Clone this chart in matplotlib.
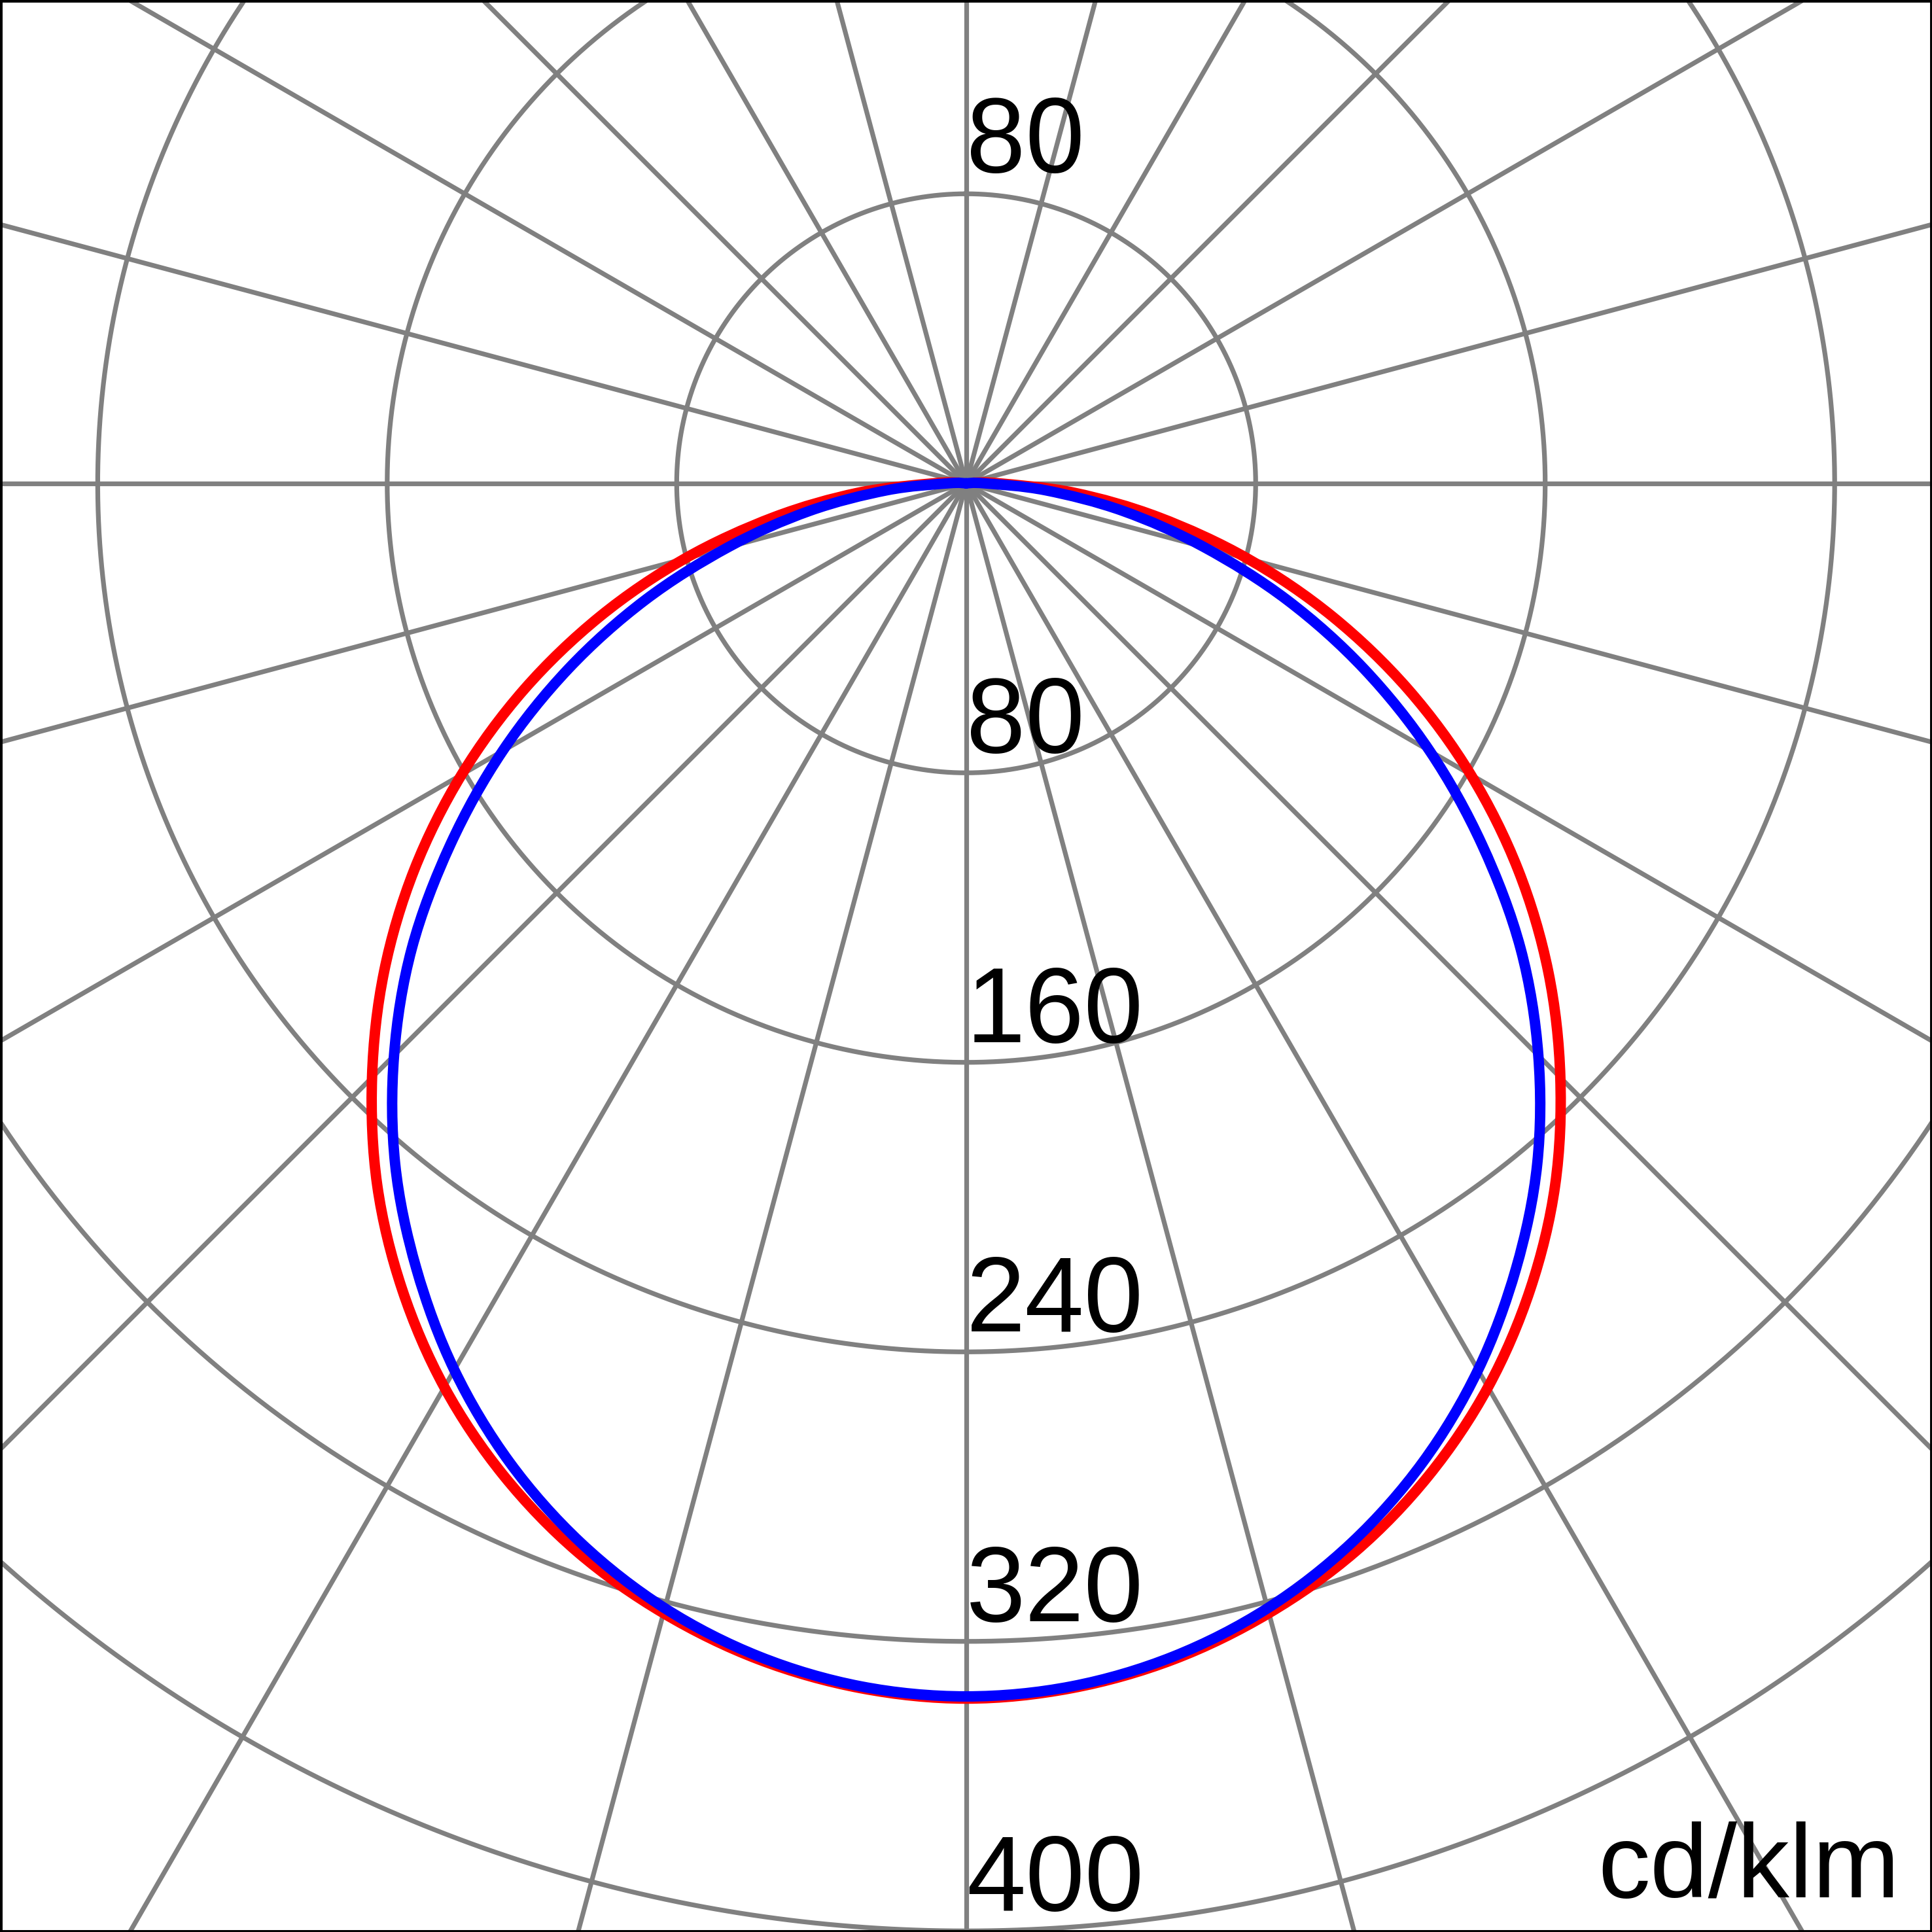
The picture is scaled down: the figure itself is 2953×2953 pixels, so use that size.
import numpy as np
import matplotlib.pyplot as plt
from matplotlib.path import Path
from matplotlib.patches import PathPatch

plt.rcParams['font.family'] = ['Liberation Sans', 'DejaVu Sans']

# luminous intensity, cd/klm, gamma 0..95 deg (symmetric both sides)
gamma = [0, 5, 10, 15, 20, 25, 30, 35, 40, 45, 50, 55, 60, 65, 70, 75, 80, 85, 90, 95]
c0_180 = [335.8, 334.2, 330.0, 323.2, 314.2, 302.5, 288.4, 271.8, 253.2, 232.2,
          210.0, 186.2, 161.0, 134.8, 107.8, 80.6, 54.0, 30.0, 9.0, 2.0]
c90_270 = [335.2, 333.7, 329.2, 321.8, 311.5, 298.5, 282.9, 264.9, 245.5, 223.6,
           200.0, 174.0, 147.9, 121.3, 94.5, 68.0, 44.0, 22.0, 5.0, 0.0]
rings = [80, 160, 240, 320, 400]
unit = 'cd/klm'

GRAY = '#808080'
FS = 117

fig = plt.figure(figsize=(29.53, 29.53), dpi=100)
ax = fig.add_axes([0, 0, 1, 1])
ax.set_xlim(-267.0, 266.9)
ax.set_ylim(-400.3, 133.55)
ax.set_xticks([])
ax.set_yticks([])
for s in ax.spines.values():
    s.set_linewidth(5)
    s.set_color('black')
    s.set_zorder(6)

# polar grid
t = np.linspace(0, 2 * np.pi, 1441)
for r in rings:
    ax.plot(r * np.sin(t), r * np.cos(t), color=GRAY, lw=5.2, zorder=1)
for a in range(0, 360, 15):
    a = np.deg2rad(a)
    ax.plot([0, 700 * np.sin(a)], [0, 700 * np.cos(a)], color=GRAY, lw=5.2, zorder=1)


def smooth_path(vals):
    # measured points, drawn as a smooth (Catmull-Rom) line
    th = np.deg2rad(np.array(gamma, dtype=float))
    v = np.array(vals, dtype=float)
    th = np.concatenate([-th[::-1], th[1:]])
    v = np.concatenate([v[::-1], v[1:]])
    p = np.column_stack([v * np.sin(th), -v * np.cos(th)])
    n = len(p)
    verts = [p[0]]
    codes = [Path.MOVETO]
    for i in range(n - 1):
        p0 = p[max(i - 1, 0)]
        p1 = p[i]
        p2 = p[i + 1]
        p3 = p[min(i + 2, n - 1)]
        verts += [p1 + (p2 - p0) / 6, p2 - (p3 - p1) / 6, p2]
        codes += [Path.CURVE4] * 3
    return Path(verts, codes)


ax.add_patch(PathPatch(smooth_path(c0_180), fill=False, edgecolor='#ff0000',
                       lw=11.5, joinstyle='round', capstyle='round', zorder=3))
ax.add_patch(PathPatch(smooth_path(c90_270), fill=False, edgecolor='#0000ff',
                       lw=11.5, joinstyle='round', capstyle='round', zorder=4))

# ring labels
ax.text(0, 80 + 6.0, '80', fontsize=FS, ha='left', va='baseline', zorder=5)
for r in rings:
    ax.text(0, -r + 5.6, str(r), fontsize=FS, ha='left', va='baseline', zorder=5)

fig.text(0.9834, 0.018, unit, fontsize=115, ha='right', va='baseline')

fig.savefig('out.png', dpi=100)
